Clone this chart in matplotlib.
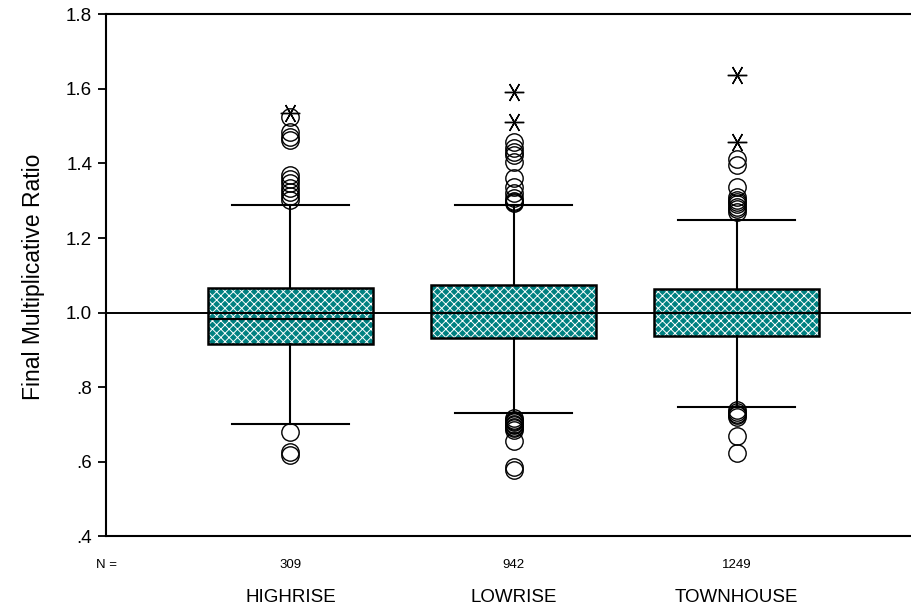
import matplotlib
matplotlib.use("Agg")
import matplotlib.pyplot as plt
from matplotlib.patches import Rectangle

plt.rcParams['font.family'] = ['Liberation Sans', 'DejaVu Sans']
plt.rcParams['hatch.linewidth'] = 0.7

# box summaries per dwelling type
categories = ['HIGHRISE', 'LOWRISE', 'TOWNHOUSE']
counts = [309, 942, 1249]
q1 = [0.915, 0.931, 0.937]
med = [0.983, 1.000, 1.000]
q3 = [1.067, 1.074, 1.063]
whislo = [0.702, 0.729, 0.747]
whishi = [1.288, 1.288, 1.248]

# outliers (circles) and extremes (asterisks)
outliers = [
    [1.526, 1.485, 1.472, 1.463, 1.369, 1.358, 1.347, 1.335, 1.324, 1.313, 1.302,
     0.678, 0.625, 0.617],
    [1.459, 1.441, 1.432, 1.423, 1.405, 1.360, 1.338, 1.320, 1.307, 1.300, 1.297, 1.293,
     0.716, 0.712, 0.708, 0.705, 0.700, 0.697, 0.694, 0.690, 0.685, 0.655, 0.585, 0.577],
    [1.412, 1.395, 1.338, 1.311, 1.303, 1.296, 1.290, 1.284, 1.277, 1.271,
     0.738, 0.733, 0.728, 0.724, 0.720, 0.669, 0.622],
]
extremes = [
    [1.535],
    [1.591, 1.512],
    [1.638, 1.459],
]

yticks = [0.4, 0.6, 0.8, 1.0, 1.2, 1.4, 1.6, 1.8]
ytick_labels = ['.4', '.6', '.8', '1.0', '1.2', '1.4', '1.6', '1.8']

positions = [1, 2, 3]
box_w = 0.742
cap_w = 0.526

fig = plt.figure(figsize=(9.11, 6.11), dpi=100)
ax = fig.add_axes([0.1164, 0.1227, 0.8946, 0.8536])

stats = []
for i in range(len(categories)):
    stats.append({'med': med[i], 'q1': q1[i], 'q3': q3[i],
                  'whislo': whislo[i], 'whishi': whishi[i],
                  'fliers': outliers[i], 'label': categories[i]})

bp = ax.bxp(stats, positions=positions, widths=box_w, capwidths=cap_w,
            patch_artist=True, showfliers=True,
            boxprops=dict(facecolor='#008080', edgecolor='white', hatch='xxxx', linewidth=0),
            medianprops=dict(color='black', linewidth=1.6),
            whiskerprops=dict(color='black', linewidth=1.5),
            capprops=dict(color='black', linewidth=1.5),
            flierprops=dict(marker='o', markersize=12.5, markerfacecolor='none',
                            markeredgecolor='black', markeredgewidth=1.0))
for m in bp['medians']:
    m.set_zorder(4)

# black outline round each hatched box
for i, p in enumerate(positions):
    ax.add_patch(Rectangle((p - box_w / 2, q1[i]), box_w, q3[i] - q1[i],
                           fill=False, edgecolor='black', linewidth=1.8, zorder=4))
    ax.plot([p] * len(extremes[i]), extremes[i], linestyle='none',
            marker=(6, 2, 90), markersize=14, markeredgewidth=1.0, color='black')

# reference line at ratio 1
ax.axhline(1.0, color='black', linewidth=1.4, zorder=5)

ax.set_xlim(0.173, 3.827)
ax.set_ylim(0.4, 1.8)
ax.set_yticks(yticks)
ax.set_yticklabels(ytick_labels, fontsize=13.5)
ax.tick_params(axis='y', direction='out', length=6, width=1.3, pad=4)
ax.set_xticks([])
for s in ax.spines.values():
    s.set_linewidth(1.5)

fig.text(0.037, 0.547, 'Final Multiplicative Ratio', rotation=90,
         ha='center', va='center', fontsize=16.5)

# sample sizes and group names under the axis
trans = ax.get_xaxis_transform()
ax.text(0.0, -0.055, 'N =', transform=ax.transAxes, ha='center', va='center',
        fontsize=9.5)
for p, n, c in zip(positions, counts, categories):
    ax.text(p, -0.055, str(n), transform=trans, ha='center', va='center', fontsize=9.5)
    ax.text(p, -0.117, c, transform=trans, ha='center', va='center', fontsize=13.5)

fig.savefig('out.png', dpi=100)
